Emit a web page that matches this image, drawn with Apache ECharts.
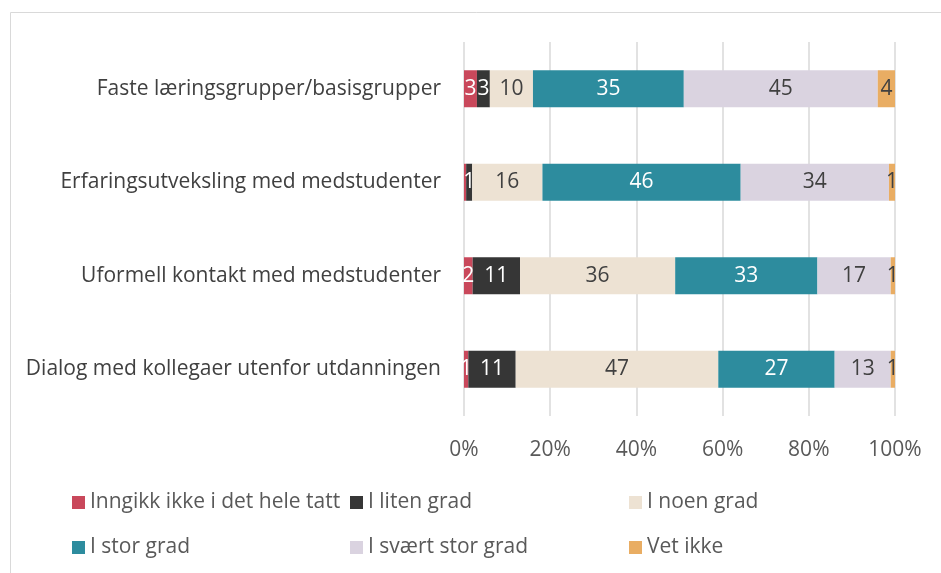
<!DOCTYPE html>
<html>
<head>
<meta charset="utf-8">
<script src="https://cdn.jsdelivr.net/npm/echarts@6/dist/echarts.min.js"></script>
<style>
  html, body { margin: 0; padding: 0; background: #fff; }
  #chart { width: 941px; height: 573px; }
</style>
</head>
<body>
<div id="chart"></div>
<script>
var categories = [
    'Faste læringsgrupper/basisgrupper',
    'Erfaringsutveksling med medstudenter',
    'Uformell kontakt med medstudenter',
    'Dialog med kollegaer utenfor utdanningen'
];
var seriesNames = ['Inngikk ikke i det hele tatt', 'I liten grad', 'I noen grad', 'I stor grad', 'I svært stor grad', 'Vet ikke'];
var colors = ['#C9485B', '#363636', '#EDE2D3', '#2D8C9E', '#DAD3E0', '#E9AD63'];
var labelColors = ['#fff', '#fff', '#404040', '#fff', '#404040', '#404040'];

// percent per category (same order as categories)
var inngikkIkke = [3, 0.5, 2, 1];
var litenGrad = [3, 1.4, 11, 11];
var noenGrad = [10, 16.3, 36, 47];
var storGrad = [35, 46.0, 33, 27];
var sværtStorGrad = [45, 34.4, 17, 13];
var vetIkke = [4, 1.4, 1, 1];

var xTicks = [0, 20, 40, 60, 80, 100];

var allValues = [inngikkIkke, litenGrad, noenGrad, storGrad, sværtStorGrad, vetIkke];
var font = 'Open Sans';
var fs = 21;

myChart = echarts.init(document.getElementById('chart'));

var series = seriesNames.map(function (name, i) {
    return {
        name: name,
        type: 'bar',
        stack: 'total',
        barWidth: 37,
        itemStyle: { color: colors[i] },
        label: {
            show: true,
            position: 'inside',
            color: labelColors[i],
            fontFamily: font,
            fontSize: fs,
            formatter: function (p) {
                return p.value < 0.75 ? '' : Math.round(p.value);
            }
        },
        emphasis: { disabled: true },
        data: allValues[i]
    };
});

// legend: 2 rows x 3 columns
var legendX = [72, 350, 629];
var legendY = [492, 537];
var legends = seriesNames.map(function (name, i) {
    return {
        left: legendX[i % 3],
        top: legendY[Math.floor(i / 3)],
        padding: 0,
        itemWidth: 13,
        itemHeight: 13,
        icon: 'rect',
        textStyle: { fontFamily: font, fontSize: fs, color: '#595959' },
        data: [name]
    };
});

option = {
    animation: false,
    textStyle: { fontFamily: font },
    graphic: [{
        type: 'rect',
        shape: { x: 10.5, y: 12.5, width: 1000, height: 1000 },
        style: { fill: 'none', stroke: '#d9d9d9', lineWidth: 1 },
        silent: true
    }],
    legend: legends,
    grid: { left: 464, right: 46, top: 42, bottom: 157, containLabel: false },
    xAxis: {
        type: 'value',
        min: 0,
        max: 100,
        interval: 20,
        axisLine: { show: false },
        axisTick: { show: false },
        splitLine: { lineStyle: { color: '#d9d9d9', width: 1.5 } },
        axisLabel: {
            fontFamily: font,
            fontSize: fs,
            color: '#595959',
            margin: 24,
            formatter: function (v) { return xTicks.indexOf(v) >= 0 ? v + '%' : ''; }
        }
    },
    yAxis: {
        type: 'category',
        inverse: true,
        data: categories,
        axisLine: { show: false },
        axisTick: { show: false },
        axisLabel: {
            fontFamily: font,
            fontSize: fs,
            color: '#404040',
            margin: 23
        }
    },
    series: series
};

myChart.setOption(option);
</script>
</body>
</html>
